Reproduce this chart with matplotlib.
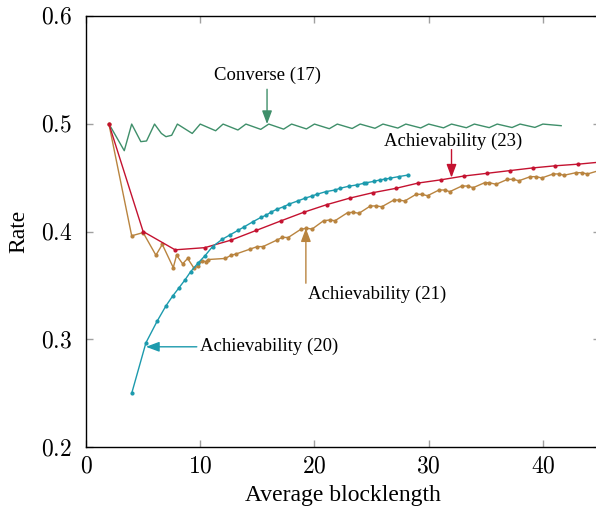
import numpy as np
import matplotlib
matplotlib.use('Agg')
import matplotlib.pyplot as plt

plt.rcParams['font.family'] = ['Liberation Serif', 'DejaVu Serif']
plt.rcParams['mathtext.fontset'] = 'cm'

# Converse (17)
conv_x = [2, 3.35, 4, 4.8, 5.3, 6, 6.6, 7.0, 7.5, 8, 9.3, 10, 11.35, 12, 13.3, 14, 15.3, 16,
          17.3, 18, 19.3, 20, 21.3, 22, 23.3, 24, 25.3, 26, 27.3, 28, 29.3, 30, 31.3, 32,
          33.3, 34, 35.3, 36, 37.3, 38, 39.3, 40, 41.6]
conv_y = [0.5, 0.475, 0.4997, 0.4834, 0.484, 0.4997, 0.491, 0.488, 0.4893, 0.4997, 0.491, 0.4997,
          0.4935, 0.4997, 0.4942, 0.4997, 0.4948, 0.4997, 0.495, 0.4997, 0.4952, 0.4997, 0.4954,
          0.4997, 0.4956, 0.4997, 0.4958, 0.4997, 0.496, 0.4997, 0.4961, 0.4997, 0.4962, 0.4997,
          0.4963, 0.4997, 0.4964, 0.4997, 0.4965, 0.4997, 0.4966, 0.4997, 0.4982]

# Achievability (20)
ach20_x = [4.0, 5.25, 6.24, 7.0, 7.58, 8.16, 8.66, 9.16, 9.83, 10.4, 11.08, 11.93, 12.6, 13.3,
           13.8, 14.6, 15.3, 15.8, 16.2, 16.7, 17.3, 17.8, 18.6, 19.2, 19.8, 20.2, 21.0, 21.8,
           22.2, 23.0, 23.7, 24.3, 24.55, 25.2, 25.7, 26.2, 26.6, 27.4, 28.2]
ach20_y = [0.2498, 0.2968, 0.317, 0.331, 0.340, 0.348, 0.355, 0.3627, 0.371, 0.3773, 0.386,
           0.3928, 0.3968, 0.401, 0.404, 0.409, 0.413, 0.4153, 0.418, 0.4206, 0.423, 0.4255,
           0.4286, 0.431, 0.433, 0.4345, 0.437, 0.4385, 0.440, 0.442, 0.4432, 0.4447, 0.4453,
           0.4465, 0.4478, 0.4487, 0.4494, 0.451, 0.4524]

# Achievability (21)
ach21_x = [2, 4.0, 5.0, 6.12, 6.68, 7.64, 7.93, 8.46, 8.9, 9.45, 9.83, 10.12, 10.5, 10.7, 12.2,
           12.7, 13.1, 14.4, 15.0, 15.5, 16.7, 17.2, 17.7, 18.8, 19.3, 19.8, 20.8, 21.35, 21.8,
           22.9, 23.4, 23.9, 24.9, 25.4, 25.9, 26.95, 27.4, 27.9, 28.9, 29.4, 29.9, 30.9, 31.4,
           31.85, 32.9, 33.4, 33.9, 34.9, 35.3, 35.9, 36.9, 37.4, 37.9, 38.9, 39.4, 39.9, 40.9,
           41.4, 41.85, 42.9, 43.4, 43.9, 44.9]
ach21_y = [0.5, 0.396, 0.399, 0.378, 0.388, 0.3665, 0.378, 0.370, 0.375, 0.366, 0.368, 0.373,
           0.372, 0.374, 0.375, 0.378, 0.379, 0.3838, 0.386, 0.386, 0.392, 0.3946, 0.3944, 0.402,
           0.403, 0.4023, 0.410, 0.4107, 0.410, 0.4175, 0.4178, 0.4169, 0.4237, 0.4237, 0.423,
           0.4292, 0.4292, 0.4283, 0.4345, 0.4345, 0.4332, 0.4385, 0.4385, 0.437, 0.4422, 0.4422,
           0.4407, 0.4453, 0.4453, 0.4438, 0.4484, 0.4484, 0.4471, 0.4509, 0.4509, 0.4497, 0.4534,
           0.4534, 0.4522, 0.4546, 0.4546, 0.4534, 0.4565]

# Achievability (23)
ach23_x = [2, 5, 7.8, 10.4, 12.7, 14.9, 17.1, 19.1, 21.1, 23.1, 25.1, 27.1, 29.1, 31.1, 33.1,
           35.1, 37.1, 39.1, 41.1, 43.1, 45.1]
ach23_y = [0.5, 0.4, 0.383, 0.385, 0.392, 0.401, 0.41, 0.418, 0.425, 0.431, 0.436, 0.440, 0.445,
           0.448, 0.4515, 0.454, 0.4565, 0.459, 0.461, 0.4625, 0.4645]

green = '#3f8f6a'
teal = '#1c9aad'
brown = '#b9843f'
red = '#c41230'

fig = plt.figure(figsize=(5.96, 5.12), dpi=100)
ax = fig.add_axes([86/596, 65/512, 514/596, 431/512])

ax.plot(conv_x, conv_y, color=green, lw=1.0)
ax.plot(ach21_x, ach21_y, color=brown, lw=1.0, marker='o', ms=2)
ax.plot(ach23_x, ach23_y, color=red, lw=1.0, marker='o', ms=2)
ax.plot(ach20_x, ach20_y, color=teal, lw=1.0, marker='o', ms=2)

ax.set_xlim(0, 45)
ax.set_ylim(0.2, 0.6)
ax.set_xticks([0, 10, 20, 30, 40], [f'${v}$' for v in [0, 10, 20, 30, 40]])
ax.set_yticks([0.2, 0.3, 0.4, 0.5, 0.6], [f'${v:.1f}$' for v in [0.2, 0.3, 0.4, 0.5, 0.6]])
ax.tick_params(direction='in', length=5, width=1, color='#a0a0a0', labelsize=17,
               top=True, right=True)
ax.tick_params(axis='y', pad=10)
ax.tick_params(axis='x', pad=7)
for s in ax.spines.values():
    s.set_linewidth(1.0)
ax.set_xlabel('Average blocklength', fontsize=17)
ax.set_ylabel('Rate', fontsize=17)
ax.xaxis.set_label_coords(257/514, -38/431)
ax.yaxis.set_label_coords(-57/514, 0.5)

ap = dict(arrowstyle='-|>,head_length=0.8,head_width=0.3', lw=1.0, shrinkA=0, shrinkB=0)
ax.annotate('', xy=(15.85, 0.4997), xytext=(15.85, 0.532), arrowprops=dict(ap, color=green))
ax.text(15.85, 0.545, 'Converse (17)', ha='center', va='center', fontsize=13.5)

ax.annotate('', xy=(32.0, 0.450), xytext=(32.0, 0.476), arrowprops=dict(ap, color=red))
ax.text(32.1, 0.484, 'Achievability (23)', ha='center', va='center', fontsize=13.5)

ax.annotate('', xy=(19.25, 0.403), xytext=(19.25, 0.352), arrowprops=dict(ap, color=brown))
ax.text(19.4, 0.342, 'Achievability (21)', ha='left', va='center', fontsize=13.5)

ax.annotate('', xy=(5.25, 0.293), xytext=(9.7, 0.293), arrowprops=dict(ap, color=teal))
ax.text(10.0, 0.293, 'Achievability (20)', ha='left', va='center', fontsize=13.5)

fig.savefig('out.png', dpi=100)
